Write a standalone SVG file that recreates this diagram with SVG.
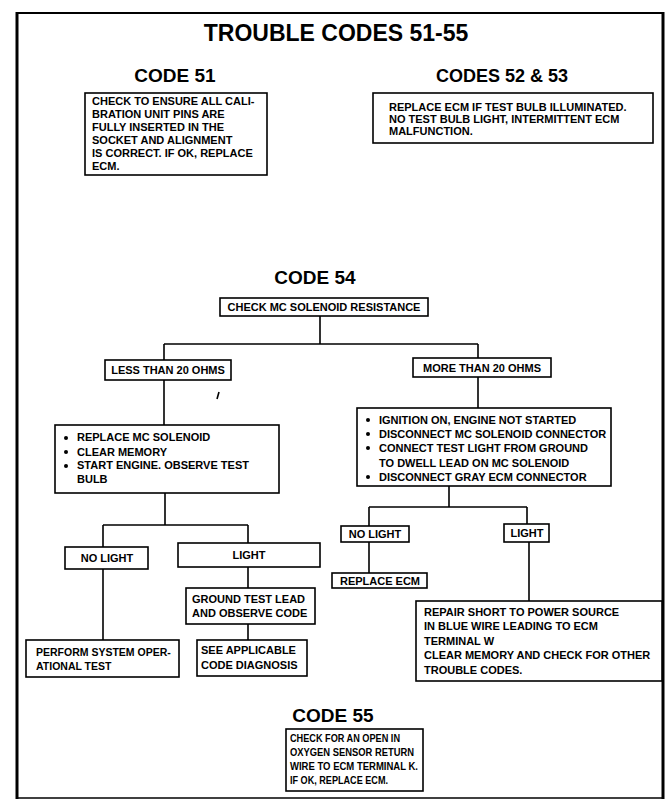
<svg xmlns="http://www.w3.org/2000/svg" width="672" height="802" viewBox="0 0 672 802">
  <style>
    .frame { fill: none; stroke: #000; }
    .box { fill: #fff; stroke: #000; stroke-width: 1.6; }
    .wire { fill: none; stroke: #000; stroke-width: 1.6; }
    .title { font-family: "Liberation Sans", Arial, sans-serif; font-weight: bold; font-size: 23px; text-anchor: middle; fill: #000; }
    .head { font-family: "Liberation Sans", Arial, sans-serif; font-weight: bold; font-size: 19px; text-anchor: middle; fill: #000; }
    .t { font-family: "Liberation Sans", Arial, sans-serif; font-weight: bold; font-size: 11px; fill: #000; }
    .s { font-size: 10.5px; }
    .c { text-anchor: middle; }
  </style>
  <rect width="672" height="802" fill="#fff"/>

  <!-- page frame -->
  <g id="frame" class="frame">
    <line x1="16" y1="13" x2="663" y2="13" stroke-width="2"/>
    <line x1="17" y1="12" x2="17" y2="799" stroke-width="3"/>
    <line x1="663" y1="12" x2="663" y2="799" stroke-width="3"/>
    <line x1="16" y1="798" x2="663" y2="798" stroke-width="1.5"/>
  </g>

  <text class="title" x="336" y="41">TROUBLE CODES 51-55</text>

  <!-- headings -->
  <text class="head" x="175" y="82">CODE 51</text>
  <text class="head" x="502" y="82" style="font-size:18px">CODES 52 &amp; 53</text>
  <text class="head" x="315" y="284">CODE 54</text>
  <text class="head" x="333" y="722">CODE 55</text>

  <!-- connectors -->
  <g id="connectors" class="wire">
    <path d="M320 316 V344 M164 344 H478 M164 344 V360 M478 344 V358"/>
    <path d="M164 380 V425"/>
    <path d="M478 377 V408"/>
    <path d="M165 493 V525 M103 525 H248 M103 525 V547 M248 525 V543"/>
    <path d="M103 569 V640"/>
    <path d="M248 567 V588 M248 624 V640"/>
    <path d="M449 486 V507 M369 507 H527 M369 507 V526 M527 507 V524"/>
    <path d="M369 542 V573"/>
    <path d="M529 542 V601"/>
  </g>

  <!-- stray mark -->
  <path d="M219 392 L217 399" stroke="#000" stroke-width="1.6"/>

  <g id="code51">
    <rect class="box" x="85" y="93" width="182" height="82"/>
    <text class="t" x="92" y="105">CHECK TO ENSURE ALL CALI-</text>
    <text class="t" x="92" y="118">BRATION UNIT PINS ARE</text>
    <text class="t" x="92" y="131">FULLY INSERTED IN THE</text>
    <text class="t" x="92" y="144">SOCKET AND ALIGNMENT</text>
    <text class="t" x="92" y="157">IS CORRECT. IF OK, REPLACE</text>
    <text class="t" x="92" y="170">ECM.</text>
  </g>

  <g id="code52-53">
    <rect class="box" x="373" y="93" width="280" height="50"/>
    <text class="t" x="389" y="111">REPLACE ECM IF TEST BULB ILLUMINATED.</text>
    <text class="t" x="389" y="123">NO TEST BULB LIGHT, INTERMITTENT ECM</text>
    <text class="t" x="389" y="135">MALFUNCTION.</text>
  </g>

  <g id="check-resistance">
    <rect class="box" x="220" y="298" width="208" height="18"/>
    <text class="t c" x="324" y="311">CHECK MC SOLENOID RESISTANCE</text>
  </g>

  <g id="less-than-20">
    <rect class="box" x="105" y="360" width="126" height="20"/>
    <text class="t c" x="168" y="374">LESS THAN 20 OHMS</text>
  </g>

  <g id="more-than-20">
    <rect class="box" x="413" y="358" width="138" height="19"/>
    <text class="t c" x="482" y="372">MORE THAN 20 OHMS</text>
  </g>

  <g id="replace-solenoid">
    <rect class="box" x="55" y="425" width="224" height="68"/>
    <circle cx="66" cy="438" r="2"/>
    <circle cx="66" cy="452" r="2"/>
    <circle cx="66" cy="466" r="2"/>
    <text class="t" x="77" y="441">REPLACE MC SOLENOID</text>
    <text class="t" x="77" y="456">CLEAR MEMORY</text>
    <text class="t" x="77" y="469">START ENGINE. OBSERVE TEST</text>
    <text class="t" x="77" y="483">BULB</text>
  </g>

  <g id="left-no-light">
    <rect class="box" x="65" y="547" width="83" height="22"/>
    <text class="t c" x="107" y="562">NO LIGHT</text>
  </g>

  <g id="left-light">
    <rect class="box" x="178" y="543" width="142" height="24"/>
    <text class="t c" x="249" y="559">LIGHT</text>
  </g>

  <g id="system-test">
    <rect class="box" x="26" y="640" width="153" height="37"/>
    <text class="t s" x="36" y="656">PERFORM SYSTEM OPER-</text>
    <text class="t s" x="36" y="670">ATIONAL TEST</text>
  </g>

  <g id="ground-test-lead">
    <rect class="box" x="186" y="588" width="129" height="36"/>
    <text class="t" x="192" y="603">GROUND TEST LEAD</text>
    <text class="t" x="192" y="617">AND OBSERVE CODE</text>
  </g>

  <g id="code-diagnosis">
    <rect class="box" x="197" y="640" width="110" height="36"/>
    <text class="t" x="201" y="654">SEE APPLICABLE</text>
    <text class="t" x="201" y="669">CODE DIAGNOSIS</text>
  </g>

  <g id="test-light-setup">
    <rect class="box" x="357" y="408" width="254" height="78"/>
    <circle cx="368" cy="420" r="2"/>
    <circle cx="368" cy="434" r="2"/>
    <circle cx="368" cy="448" r="2"/>
    <circle cx="368" cy="477" r="2"/>
    <text class="t" x="379" y="424">IGNITION ON, ENGINE NOT STARTED</text>
    <text class="t" x="379" y="438">DISCONNECT MC SOLENOID CONNECTOR</text>
    <text class="t" x="379" y="452">CONNECT TEST LIGHT FROM GROUND</text>
    <text class="t" x="379" y="467">TO DWELL LEAD ON MC SOLENOID</text>
    <text class="t" x="379" y="481">DISCONNECT GRAY ECM CONNECTOR</text>
  </g>

  <g id="right-no-light">
    <rect class="box" x="341" y="526" width="68" height="16"/>
    <text class="t c" x="375" y="538">NO LIGHT</text>
  </g>

  <g id="right-light">
    <rect class="box" x="504" y="524" width="45" height="18"/>
    <text class="t c" x="527" y="537">LIGHT</text>
  </g>

  <g id="replace-ecm">
    <rect class="box" x="332" y="573" width="95" height="15"/>
    <text class="t c" x="380" y="585">REPLACE ECM</text>
  </g>

  <g id="repair-short">
    <rect class="box" x="416" y="601" width="246" height="80"/>
    <text class="t" x="424" y="616">REPAIR SHORT TO POWER SOURCE</text>
    <text class="t" x="424" y="630">IN BLUE WIRE LEADING TO ECM</text>
    <text class="t" x="424" y="645">TERMINAL W</text>
    <text class="t" x="424" y="659">CLEAR MEMORY AND CHECK FOR OTHER</text>
    <text class="t" x="424" y="674">TROUBLE CODES.</text>
  </g>

  <!-- condensed lines so the text fits the narrow box -->
  <g id="code55">
    <rect class="box" x="286" y="729" width="137" height="62"/>
    <text class="t" x="290" y="742" textLength="110" lengthAdjust="spacingAndGlyphs">CHECK FOR AN OPEN IN</text>
    <text class="t" x="290" y="756" textLength="124" lengthAdjust="spacingAndGlyphs">OXYGEN SENSOR RETURN</text>
    <text class="t" x="290" y="770" textLength="128" lengthAdjust="spacingAndGlyphs">WIRE TO ECM TERMINAL K.</text>
    <text class="t" x="290" y="784" textLength="98" lengthAdjust="spacingAndGlyphs">IF OK, REPLACE ECM.</text>
  </g>
</svg>
